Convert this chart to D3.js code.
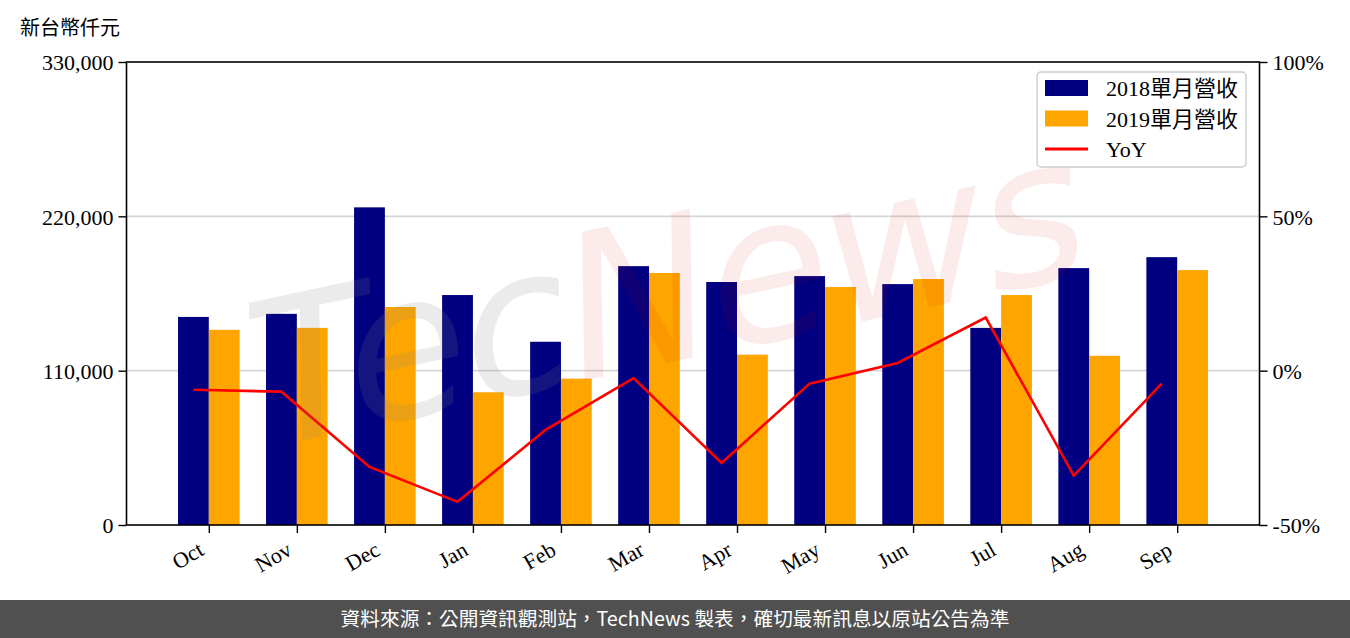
<!DOCTYPE html>
<html>
<head>
<meta charset="utf-8">
<script src="https://cdn.jsdelivr.net/npm/d3@7"></script>
<style>
  html, body { margin: 0; padding: 0; background: #fff; }
  svg { display: block; }
</style>
</head>
<body>
<svg id="chart" width="1350" height="638"></svg>
<script>
// ---------- data ----------
const categories = ["Oct", "Nov", "Dec", "Jan", "Feb", "Mar", "Apr", "May", "Jun", "Jul", "Aug", "Sep"];
const rev2018 = [148300, 150500, 226400, 163900, 130600, 184500, 173200, 177400, 171700, 140500, 183100, 190900];
const rev2019 = [139100, 140500, 155400, 94600, 104300, 179600, 121400, 169600, 175300, 163900, 120600, 181700];
const yoy = [-6.2, -6.8, -31.2, -42.5, -19.2, -2.4, -29.9, -4.2, 2.5, 17.2, -34.0, -4.2];
const leftTicks = [0, 110000, 220000, 330000];
const rightTicks = [-50, 0, 50, 100];
const seriesNames = ["2018單月營收", "2019單月營收", "YoY"];
const unitLabel = "新台幣仟元";
const footerText = "資料來源：公開資訊觀測站，TechNews 製表，確切最新訊息以原站公告為準";

// ---------- layout ----------
const W = 1350, H = 638;
const L = 126.5, R = 1259.5, T = 62, B = 525;
const barW = 0.35;
const serif = "'Liberation Serif', 'DejaVu Serif', 'Noto Sans CJK TC', serif";
const cjk = "'Liberation Serif', 'Noto Sans CJK TC', sans-serif";
const colors = { a: "#000080", b: "#FFA500", line: "#FF0000" };

const svg = d3.select("#chart");

const x = d3.scaleLinear().domain([-0.935, categories.length - 1 + 0.935]).range([L, R]);
const y = d3.scaleLinear().domain([0, 330000]).range([B, T]);
const y2 = d3.scaleLinear().domain([-50, 100]).range([B, T]);

// gridlines
svg.append("g").selectAll("line")
  .data(leftTicks.filter(d => d > 0 && d < 330000))
  .join("line")
  .attr("x1", L).attr("x2", R)
  .attr("y1", d => y(d)).attr("y2", d => y(d))
  .attr("stroke", "#d6d6d6").attr("stroke-width", 1.6);

// bars
svg.append("g").selectAll("rect")
  .data(rev2018)
  .join("rect")
  .attr("x", (d, i) => x(i - barW))
  .attr("width", (d, i) => x(i) - x(i - barW))
  .attr("y", d => y(d))
  .attr("height", d => B - y(d))
  .attr("fill", colors.a);

svg.append("g").selectAll("rect")
  .data(rev2019)
  .join("rect")
  .attr("x", (d, i) => x(i))
  .attr("width", (d, i) => x(i + barW) - x(i))
  .attr("y", d => y(d))
  .attr("height", d => B - y(d))
  .attr("fill", colors.b);

// YoY line
const line = d3.line().x((d, i) => x(i - barW / 2)).y(d => y2(d));
svg.append("path")
  .datum(yoy)
  .attr("d", line)
  .attr("fill", "none")
  .attr("stroke", colors.line)
  .attr("stroke-width", 2.6)
  .attr("stroke-linejoin", "miter");

// watermark
const wm = svg.append("text")
  .attr("transform", "translate(680,360) rotate(-12)")
  .attr("text-anchor", "middle")
  .attr("font-family", "'DejaVu Sans', sans-serif")
  .attr("font-style", "italic")
  .attr("font-size", 200)
  .attr("letter-spacing", -4);
wm.append("tspan").text("Tec").attr("fill", "#808080").attr("fill-opacity", 0.16);
wm.append("tspan").text("News").attr("fill", "#c80000").attr("fill-opacity", 0.08);

// frame
const frame = svg.append("g").attr("stroke", "#000").attr("stroke-width", 1.6).attr("fill", "none");
frame.append("rect").attr("x", L).attr("y", T).attr("width", R - L).attr("height", B - T);

// axes
const fmt = d3.format(",");
const axL = svg.append("g").attr("transform", `translate(${L},0)`)
  .call(d3.axisLeft(y).tickValues(leftTicks).tickFormat(fmt).tickSize(8).tickPadding(5));
const axR = svg.append("g").attr("transform", `translate(${R},0)`)
  .call(d3.axisRight(y2).tickValues(rightTicks).tickFormat(d => d + "%").tickSize(8).tickPadding(5));
const axB = svg.append("g").attr("transform", `translate(0,${B})`)
  .call(d3.axisBottom(x).tickValues(d3.range(categories.length)).tickFormat(i => categories[i]).tickSize(8));

[axL, axR, axB].forEach(g => {
  g.select(".domain").remove();
  g.selectAll(".tick line").attr("stroke", "#000").attr("stroke-width", 1.4);
  g.selectAll("text").attr("font-family", serif).attr("font-size", 22).attr("fill", "#000");
});
axL.selectAll("text").attr("dy", "0.35em");
axR.selectAll("text").attr("dy", "0.35em");
axB.selectAll(".tick text")
  .attr("text-anchor", "end")
  .attr("y", 0).attr("dy", 0)
  .attr("transform", "translate(-4,29) rotate(-30)");

// unit label
svg.append("text")
  .attr("x", 20).attr("y", 35)
  .attr("font-family", cjk).attr("font-size", 20).attr("fill", "#000")
  .text(unitLabel);

// legend
const lg = svg.append("g");
lg.append("rect")
  .attr("x", 1037).attr("y", 72).attr("width", 209).attr("height", 95)
  .attr("rx", 4)
  .attr("fill", "#fff").attr("fill-opacity", 0.8)
  .attr("stroke", "#cccccc").attr("stroke-width", 1.4);
const items = [
  { name: seriesNames[0], type: "rect", color: colors.a },
  { name: seriesNames[1], type: "rect", color: colors.b },
  { name: seriesNames[2], type: "line", color: colors.line }
];
items.forEach((it, k) => {
  const cy = 88 + k * 30.5;
  if (it.type === "rect") {
    lg.append("rect").attr("x", 1045).attr("y", cy - 8).attr("width", 43).attr("height", 16).attr("fill", it.color);
  } else {
    lg.append("line").attr("x1", 1045).attr("x2", 1088).attr("y1", cy).attr("y2", cy)
      .attr("stroke", it.color).attr("stroke-width", 3);
  }
  lg.append("text").attr("x", 1106).attr("y", cy + 8)
    .attr("font-family", cjk).attr("font-size", 22).attr("fill", "#000")
    .text(it.name);
});

// footer
svg.append("rect").attr("x", 0).attr("y", 600).attr("width", W).attr("height", 38).attr("fill", "#505050");
svg.append("text")
  .attr("x", W / 2).attr("y", 626)
  .attr("text-anchor", "middle")
  .attr("font-family", "'Noto Sans CJK TC', 'Noto Sans', sans-serif")
  .attr("font-size", 19.7).attr("fill", "#fff")
  .text(footerText);
</script>
</body>
</html>
